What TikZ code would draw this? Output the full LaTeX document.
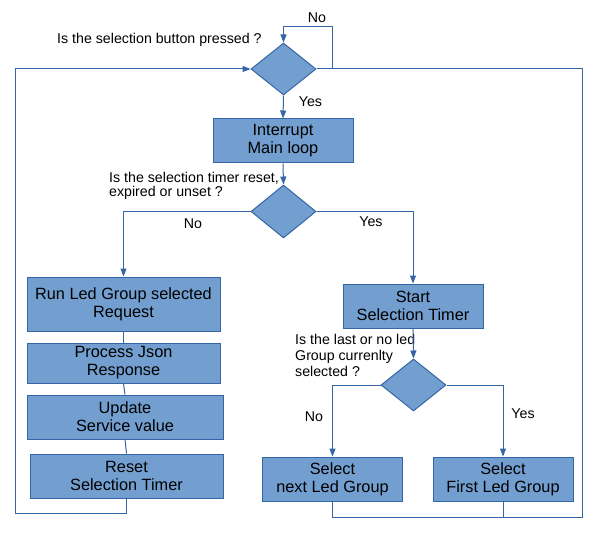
\documentclass[tikz,border=0pt]{standalone}
\usepackage{fontspec}
\setmainfont{Liberation Sans}
\usetikzlibrary{shapes.geometric,arrows.meta}
\definecolor{boxfill}{HTML}{729FCF}
\definecolor{boxline}{HTML}{3465A4}

\begin{document}
\begin{tikzpicture}[x=1pt, y=-1pt,
    box/.style={draw=boxline, fill=boxfill, line width=1pt, inner sep=0pt, align=center,
                minimum width=140pt, minimum height=44pt, font=\fontsize{16.3}{18}\selectfont},
    decision/.style={diamond, draw=boxline, fill=boxfill, line width=1pt, inner sep=0pt,
                minimum width=65pt, minimum height=52pt},
    txt/.style={inner sep=0pt, font=\fontsize{14.2}{16}\selectfont},
    line/.style={draw=boxline, line width=1pt},
    arr/.style={line, -{Triangle[length=8pt,width=6pt]}}]
                      \useasboundingbox (0,0) rectangle (593,534);

                      \node[decision] (q1) at (283.5,69) {};
                      \node[box] (intr) at (283,141) {Interrupt\\Main loop};
                      \node[decision, minimum height=53pt] (q2) at (283.5,211.5) {};

                      \node[box, minimum width=193pt, minimum height=54pt] (run) at (123.5,304) {Run Led Group selected\\Request};
                      \node[box, minimum width=193pt, minimum height=40pt] (json) at (123.5,363) {Process Json\\Response};
                      \node[box, minimum width=196pt] (upd) at (125,417) {Update\\Service value};
                      \node[box, minimum width=193pt] (rst) at (126.5,476) {Reset\\Selection Timer};

                      \node[box] (start) at (413,306) {Start\\Selection Timer};
                      \node[decision] (q3) at (413.5,385) {};
                      \node[box] (next) at (332.5,479) {Select\\next Led Group};
                      \node[box] (first) at (503,479) {Select\\First Led Group};

                      \node[txt, anchor=west] (q1txt) at (57,40) {Is the selection button pressed ?};
                      \node[txt, anchor=west, align=left, font=\fontsize{14.2}{14.5}\selectfont] (q2txt) at (109,186) {Is the selection timer reset,\\expired or unset ?};
                      \node[txt, anchor=west, align=left] (q3txt) at (295,355) {Is the last or no led\\Group currenlty\\selected ?};

                      \coordinate (loop) at (332,27);
                      \coordinate (lback) at (15,513);
                      \coordinate (rback) at (582,517);

                      \draw[arr] (q1.east) -| (loop) -| (q1.north);
                      \node[txt] (no1) at (317,18) {No};
                      \draw[arr] (q1.south) -- (intr.north) node[txt, pos=.25, right=15pt] (yes1) {Yes};
                      \draw[arr] (intr.south) -- (q2.north);

                      \draw[arr] (q2.west) -| (run.north);
                      \node[txt] (no2) at (193,224) {No};
                      \draw[arr] (q2.east) -| (start.north);
                      \node[txt] (yes2) at (371,222) {Yes};

                      \draw[line] (run.south) -- (json.north);
                      \draw[line] (json.south) -- (upd.north);
                      \draw[line] (upd.south) -- (rst.north);
                      \draw[arr] (rst.south) |- (lback) |- (q1.west);

                      \draw[arr] (start.south) -- (q3.north);
                      \draw[arr] (q3.west) -| (next.north);
                      \node[txt] (no3) at (314,417) {No};
                      \draw[arr] (q3.east) -| (first.north);
                      \node[txt] (yes3) at (523,414) {Yes};

                      \draw[line] (q1.east) -| (rback) -| (next.south);
                      \draw[line] (first.south) -- (first.south |- rback);
                  \end{tikzpicture}
\end{document}
